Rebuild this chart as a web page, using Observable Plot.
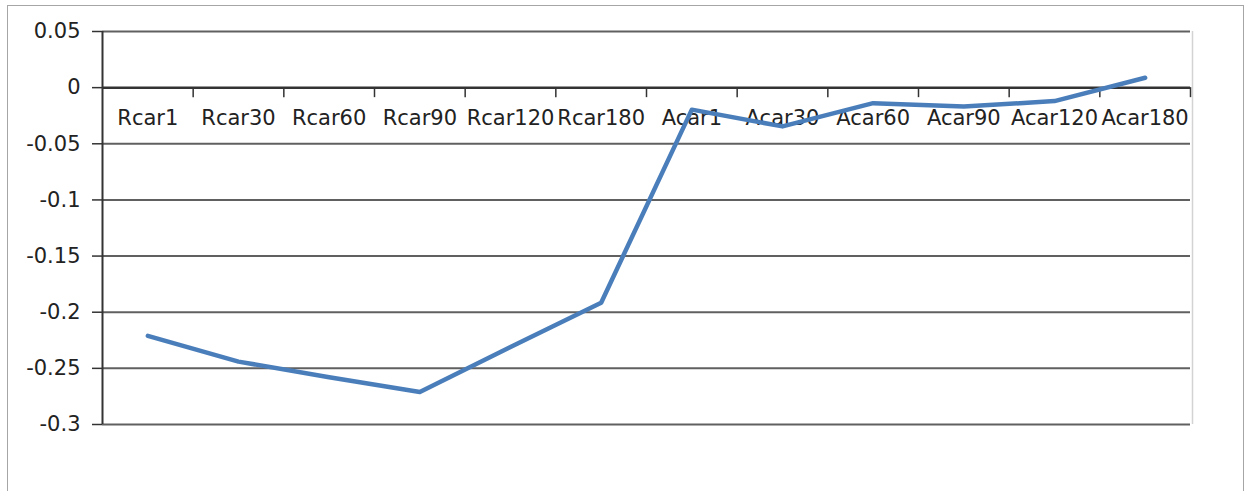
<!DOCTYPE html>
<html><head><meta charset="utf-8">
<script src="https://cdn.jsdelivr.net/npm/d3@7"></script>
<script src="https://cdn.jsdelivr.net/npm/@observablehq/plot@0.6"></script>
<style>
body{margin:0;overflow:hidden;background:#fff;}
#frame{position:absolute;left:7px;top:5px;width:1235px;height:600px;border:1px solid #a6a6a6;}
#chart{position:absolute;left:0;top:0;}
</style></head><body><div id="frame"></div><div id="chart"></div>
<script>
const categories = ["Rcar1","Rcar30","Rcar60","Rcar90","Rcar120","Rcar180","Acar1","Acar30","Acar60","Acar90","Acar120","Acar180"];
const values = [-0.221,-0.244,-0.258,-0.271,-0.231,-0.1915,-0.0196,-0.0345,-0.0138,-0.0168,-0.012,0.0088];
const yTicks = [0.05,0,-0.05,-0.1,-0.15,-0.2,-0.25,-0.3];
const yTickLabels = ["0.05","0","-0.05","-0.1","-0.15","-0.2","-0.25","-0.3"];

const data = categories.map((c,i)=>({i: i+0.5, c, v: values[i]}));
const bounds = d3.range(categories.length+1);

const chart = Plot.plot({
  width:1244, height:491,
  marginLeft:102, marginRight:54, marginTop:31, marginBottom:67,
  x:{domain:[0,categories.length], axis:null},
  y:{domain:[-0.3,0.05], axis:null},
  style:{fontFamily:"DejaVu Sans", fontSize:"21px", color:"#222", background:"transparent", overflow:"visible"},
  marks:[
    Plot.ruleY(yTicks.filter(t=>t!==0), {stroke:"#606060", strokeWidth:2}),
    Plot.ruleX([categories.length], {y1:-0.3, y2:0.05, stroke:"#d3d3d3", strokeWidth:1.5, dx:2}),
    Plot.ruleX(bounds.slice(1), {y1:0, y2:0, insetBottom:-10, stroke:"#333", strokeWidth:1.5}),
    Plot.ruleY([0], {stroke:"#333", strokeWidth:2.5}),
    Plot.ruleX([0], {stroke:"#333", strokeWidth:2}),
    Plot.axisY({ticks:yTicks, label:null, tickSize:10, tickPadding:12, stroke:"#333", strokeWidth:1.5,
      tickFormat:d=>yTickLabels[yTicks.indexOf(d)], fontSize:21, fill:"#222"}),
    Plot.text(data, {x:"i", y:0, text:"c", dy:31, fontSize:21, fill:"#222"}),
    Plot.line(data, {x:"i", y:"v", stroke:"#4a7ebb", strokeWidth:4.5, strokeLinejoin:"round", strokeLinecap:"round"})
  ]
});
document.getElementById("chart").appendChild(chart);
</script></body></html>
